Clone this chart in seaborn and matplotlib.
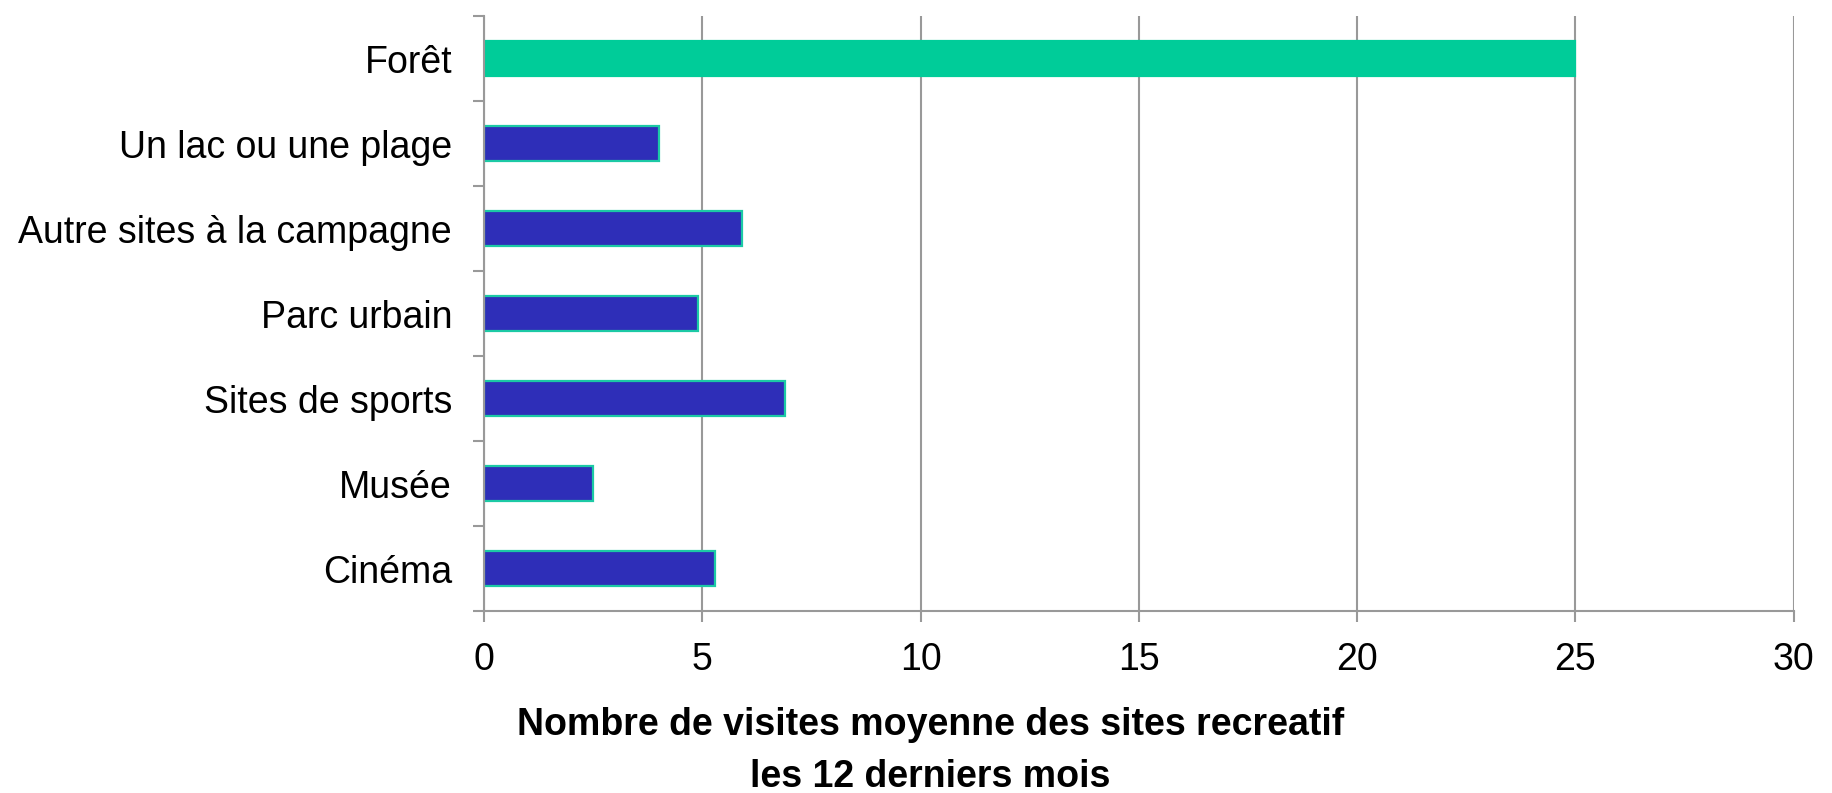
import matplotlib.pyplot as plt
import pandas as pd
import seaborn as sns
from matplotlib.ticker import FixedLocator

categories = [
    "Forêt",
    "Un lac ou une plage",
    "Autre sites à la campagne",
    "Parc urbain",
    "Sites de sports",
    "Musée",
    "Cinéma",
]
visites = [25.0, 4.0, 5.9, 4.9, 6.9, 2.5, 5.3]
x_ticks = [0, 5, 10, 15, 20, 25, 30]
xlabel = "Nombre de visites moyenne des sites recreatif\nles 12 derniers mois"

sns.set_style("white")
plt.rcParams["font.family"] = ["Liberation Sans", "DejaVu Sans"]
plt.rcParams["text.color"] = "black"
plt.rcParams["xtick.color"] = "black"
plt.rcParams["ytick.color"] = "black"

df = pd.DataFrame({"site": categories, "visites": visites})
palette = {c: ("#00CC99" if c == "Forêt" else "#2E2EB8") for c in categories}

fig = plt.figure(figsize=(18.32, 7.93), dpi=100)
ax = fig.add_axes([0.2642, 0.2295, 0.979 - 0.2642, 0.9798 - 0.2295])

sns.barplot(
    data=df,
    x="visites",
    y="site",
    hue="site",
    palette=palette,
    order=categories,
    orient="h",
    width=0.42,
    saturation=1,
    legend=False,
    ax=ax,
    edgecolor="#1CC9A5",
    linewidth=1.6,
)
# Forêt bar has no distinct border
ax.patches[0].set_edgecolor("#00CC99")

ax.set_xlim(0, 30)
ax.set_ylim(len(categories) - 0.5, -0.5)
ax.set_xticks(x_ticks)
ax.set_xticklabels([str(t) for t in x_ticks], fontsize=27)
ax.tick_params(axis="x", bottom=True, direction="out", length=8, width=1.5,
               color="#999999", labelcolor="black", pad=14)

ax.tick_params(axis="y", which="major", left=True, length=0, pad=23,
               labelsize=27, labelcolor="black")
ax.yaxis.set_minor_locator(FixedLocator([i - 0.5 for i in range(len(categories) + 1)]))
ax.tick_params(axis="y", which="minor", left=True, direction="out", length=8,
               width=1.5, color="#999999")

ax.set_axisbelow(True)
ax.grid(axis="x", color="#999999", linewidth=1.5)
ax.grid(axis="y", visible=False)
for side in ["top", "right"]:
    ax.spines[side].set_visible(False)
for side in ["left", "bottom"]:
    ax.spines[side].set_color("#999999")
    ax.spines[side].set_linewidth(1.5)

ax.set_xlabel("")
ax.set_ylabel("")
fig.text(
    0.508,
    0.0078,
    xlabel,
    ha="center",
    va="baseline",
    fontsize=27,
    fontweight="bold",
    color="black",
    linespacing=1.55,
)

fig.savefig("out.png", dpi=100)
